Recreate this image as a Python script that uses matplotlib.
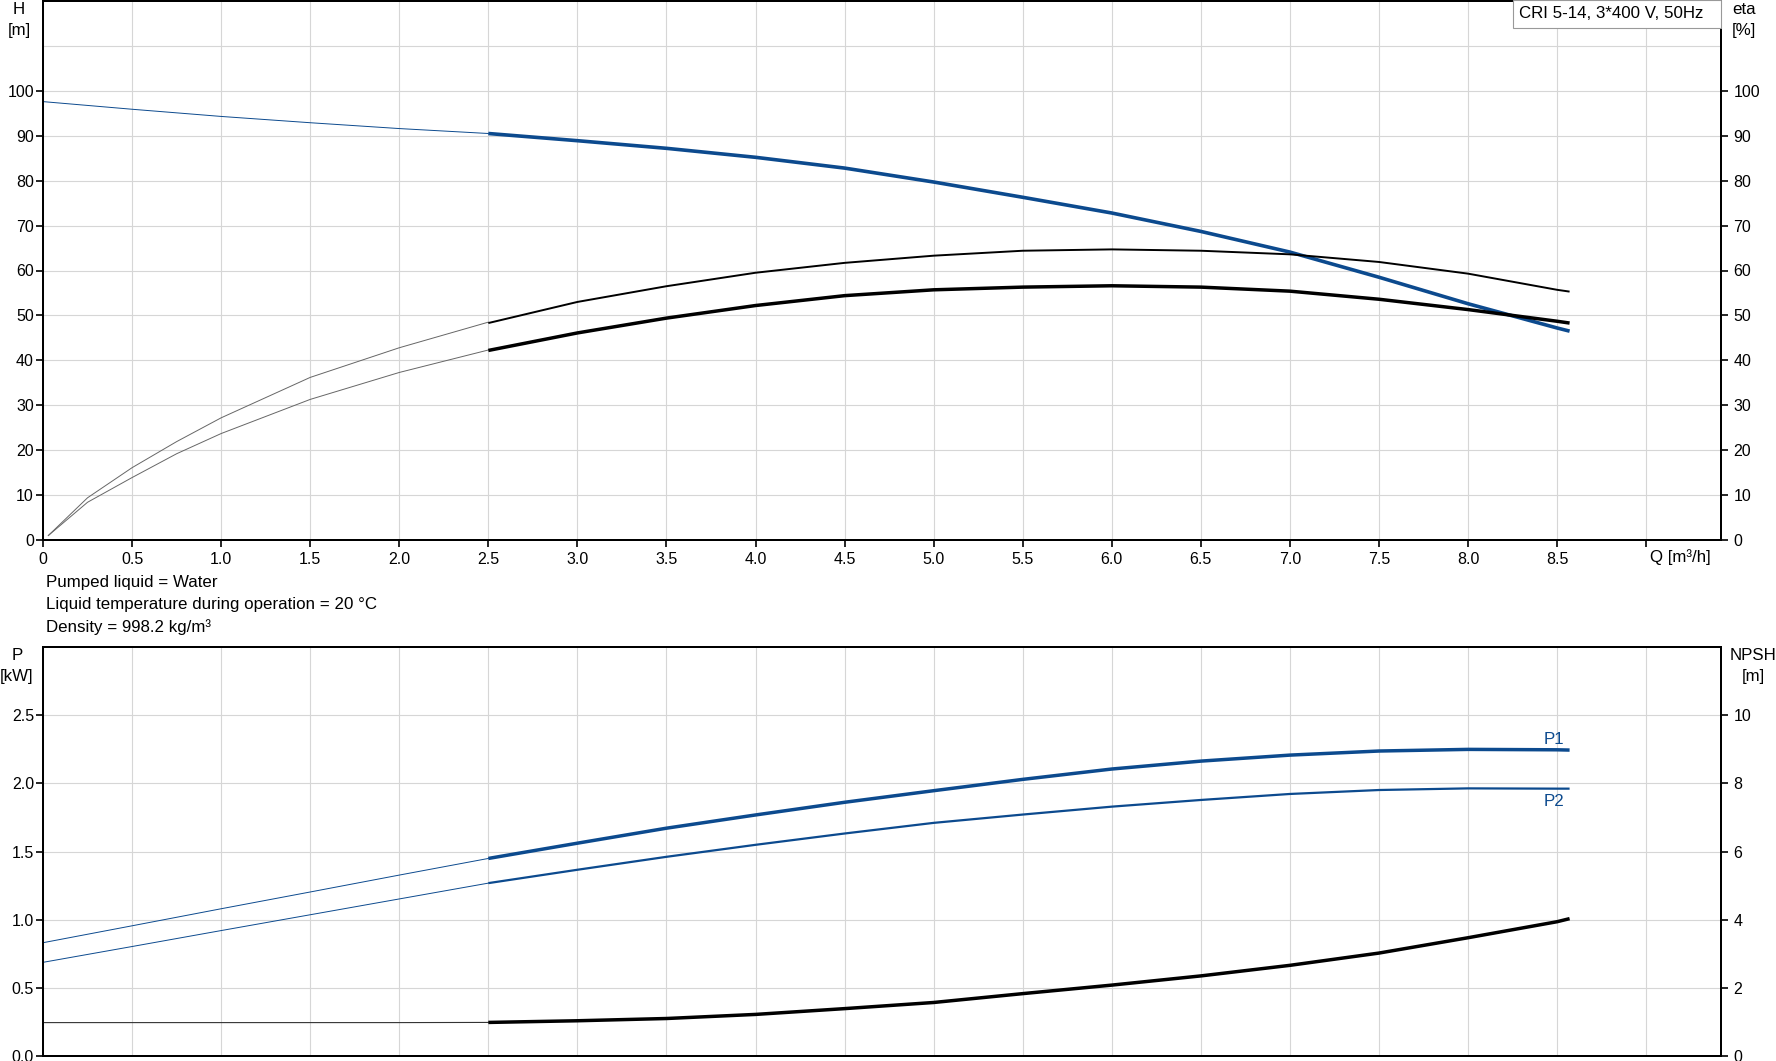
import numpy as np
import matplotlib
matplotlib.use("Agg")
import matplotlib.pyplot as plt
from matplotlib.patches import Rectangle

plt.rcParams['font.family'] = ['Liberation Sans', 'DejaVu Sans']

# ---- data ----
# thin (extrapolated) part of the curves, Q from 0 to 2.5
q_eta_thin = [0.03, 0.25, 0.5, 0.75, 1.0, 1.5, 2.0, 2.5]
eta1_thin = [1.0, 9.4, 16.1, 21.9, 27.2, 36.2, 42.8, 48.5]
eta2_thin = [1.0, 8.4, 13.9, 19.2, 23.7, 31.3, 37.3, 42.3]

q_thin = [0.0, 0.5, 1.0, 1.5, 2.0, 2.5]
h_thin = [97.6, 95.9, 94.3, 92.9, 91.6, 90.5]
p1_thin = [0.831, 0.955, 1.080, 1.203, 1.327, 1.449]
p2_thin = [0.687, 0.803, 0.920, 1.036, 1.152, 1.268]
npsh_thin = [0.98, 0.98, 0.98, 0.98, 0.98, 0.985]

# operating range, Q from 2.5 to 8.57
q = [2.5, 3.0, 3.5, 4.0, 4.5, 5.0, 5.5, 6.0, 6.5, 7.0, 7.5, 8.0, 8.5, 8.57]
h = [90.5, 88.9, 87.2, 85.2, 82.8, 79.7, 76.3, 72.8, 68.7, 64.1, 58.5, 52.6, 47.2, 46.5]
eta1 = [48.3, 53.0, 56.5, 59.5, 61.7, 63.3, 64.4, 64.7, 64.4, 63.6, 61.9, 59.3, 55.7, 55.3]
eta2 = [42.2, 46.1, 49.4, 52.2, 54.4, 55.7, 56.3, 56.6, 56.3, 55.4, 53.6, 51.3, 48.7, 48.3]
p1 = [1.449, 1.561, 1.671, 1.768, 1.861, 1.946, 2.029, 2.105, 2.163, 2.207, 2.237, 2.249, 2.246, 2.244]
p2 = [1.268, 1.366, 1.461, 1.549, 1.632, 1.710, 1.771, 1.829, 1.878, 1.922, 1.951, 1.963, 1.961, 1.961]
npsh = [0.985, 1.034, 1.10, 1.22, 1.39, 1.57, 1.83, 2.08, 2.35, 2.66, 3.02, 3.47, 3.94, 4.03]

x_ticks = [0, 0.5, 1.0, 1.5, 2.0, 2.5, 3.0, 3.5, 4.0, 4.5, 5.0, 5.5, 6.0, 6.5, 7.0, 7.5, 8.0, 8.5, 9.0]
x_labels = ['0', '0.5', '1.0', '1.5', '2.0', '2.5', '3.0', '3.5', '4.0', '4.5',
            '5.0', '5.5', '6.0', '6.5', '7.0', '7.5', '8.0', '8.5', '']
h_ticks = [0, 10, 20, 30, 40, 50, 60, 70, 80, 90, 100]
p_ticks = [0.0, 0.5, 1.0, 1.5, 2.0, 2.5]
npsh_ticks = [0, 2, 4, 6, 8, 10]

info_lines = ['Pumped liquid = Water',
              'Liquid temperature during operation = 20 \u00b0C',
              'Density = 998.2 kg/m\u00b3']

BLUE = '#0c4a8e'
GRID = '#d6d6d6'
W, H = 1776, 1061
TS = 11.5   # tick labels
FS = 12.2   # other text

fig = plt.figure(figsize=(W / 100, H / 100), dpi=100)

def fx(px):
    return px / W

def fy(py):
    return 1 - py / H

ax1 = fig.add_axes([fx(43), fy(540), fx(1721 - 43), (540 - 1) / H])
ax2 = fig.add_axes([fx(43), fy(1056), fx(1721 - 43), (1056 - 647) / H])

for ax in (ax1, ax2):
    ax.set_xlim(0, 9.42)
    ax.set_xticks(x_ticks)
    ax.grid(True, color=GRID, lw=0.8)
    ax.set_axisbelow(True)
    for s in ax.spines.values():
        s.set_linewidth(1.4)

# ---- top: head and efficiency ----
ax1.set_ylim(0, 120)
ax1.set_yticks(h_ticks)
ax1.axhline(110, color=GRID, lw=0.8, zorder=0)
ax1.set_xticklabels(x_labels)
ax1.tick_params(axis='x', direction='out', length=5, width=1.2, pad=4, labelsize=TS)
ax1.tick_params(axis='y', direction='out', length=5, width=1.2, pad=1.5, labelsize=TS)

ax1.plot(q_thin, h_thin, color=BLUE, lw=0.7)
ax1.plot(q, h, color=BLUE, lw=2.6, solid_capstyle='butt')
ax1.plot(q_eta_thin, eta1_thin, color='#666666', lw=0.7)
ax1.plot(q_eta_thin, eta2_thin, color='#666666', lw=0.7)
ax1.plot(q, eta1, color='black', lw=1.4, solid_capstyle='butt')
ax1.plot(q, eta2, color='black', lw=2.5, solid_capstyle='butt')

ax1r = ax1.twinx()
ax1r.set_ylim(0, 120)
ax1r.set_yticks(h_ticks)
ax1r.tick_params(axis='y', direction='out', length=5, width=1.2, pad=4, labelsize=TS)
for s in ax1r.spines.values():
    s.set_linewidth(1.4)

ax1.annotate('Q [m\u00b3/h]', xy=(9.0, 0), xycoords=('data', 'axes fraction'),
             xytext=(4, -17), textcoords='offset pixels', ha='left', va='center', fontsize=FS)

# ---- bottom: power and NPSH ----
ax2.set_ylim(0, 3.0)
ax2.set_yticks(p_ticks)
ax2.set_yticklabels(['0.0', '0.5', '1.0', '1.5', '2.0', '2.5'])
ax2.tick_params(axis='x', length=0, labelbottom=False)
ax2.tick_params(axis='y', direction='out', length=5, width=1.2, pad=1.5, labelsize=TS)

ax2.plot(q_thin, p1_thin, color=BLUE, lw=0.7)
ax2.plot(q_thin, p2_thin, color=BLUE, lw=0.7)
ax2.plot(q, p1, color=BLUE, lw=2.5, solid_capstyle='butt')
ax2.plot(q, p2, color=BLUE, lw=1.6, solid_capstyle='butt')
ax2.text(8.48, 2.325, 'P1', color=BLUE, fontsize=FS, ha='center', va='center')
ax2.text(8.48, 1.866, 'P2', color=BLUE, fontsize=FS, ha='center', va='center')

ax2r = ax2.twinx()
ax2r.set_ylim(0, 12)
ax2r.set_yticks(npsh_ticks)
ax2r.tick_params(axis='y', direction='out', length=5, width=1.2, pad=4, labelsize=TS)
for s in ax2r.spines.values():
    s.set_linewidth(1.4)
ax2r.plot(q_thin, npsh_thin, color='#333333', lw=0.8)
ax2r.plot(q, npsh, color='black', lw=2.5, solid_capstyle='butt')

# ---- axis captions and info text ----
fig.text(fx(19), fy(10), 'H', ha='center', va='center', fontsize=FS)
fig.text(fx(19), fy(30), '[m]', ha='center', va='center', fontsize=FS)
fig.text(fx(1744), fy(10), 'eta', ha='center', va='center', fontsize=FS)
fig.text(fx(1744), fy(30), '[%]', ha='center', va='center', fontsize=FS)
fig.text(fx(17), fy(655), 'P', ha='center', va='center', fontsize=FS)
fig.text(fx(17), fy(677), '[kW]', ha='center', va='center', fontsize=FS)
fig.text(fx(1753), fy(655), 'NPSH', ha='center', va='center', fontsize=FS)
fig.text(fx(1753), fy(677), '[m]', ha='center', va='center', fontsize=FS)

for i, line in enumerate(info_lines):
    fig.text(fx(46), fy(583 + 22 * i), line, ha='left', va='center', fontsize=FS)

fig.patches.append(Rectangle((fx(1513), fy(28)), fx(1721 - 1513), 28 / H,
                             transform=fig.transFigure, facecolor='white',
                             edgecolor='#999999', lw=0.8, zorder=4))
fig.text(fx(1519), fy(13), 'CRI 5-14, 3*400 V, 50Hz', ha='left', va='center',
         fontsize=FS, zorder=5)

fig.savefig('out.png', dpi=100)
